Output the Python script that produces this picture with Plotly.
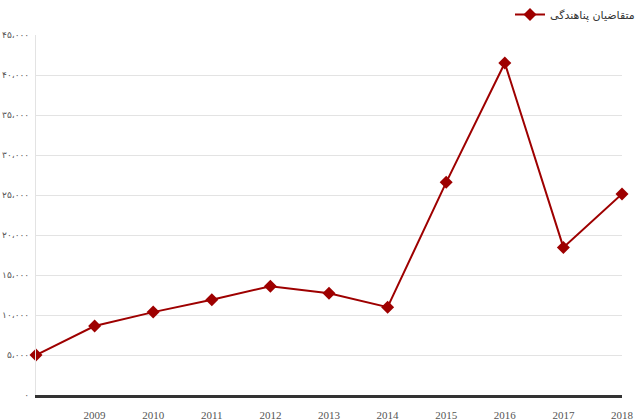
import plotly.graph_objects as go

years = [2008, 2009, 2010, 2011, 2012, 2013, 2014, 2015, 2016, 2017, 2018]
applicants = [5000, 8620, 10360, 11900, 13600, 12720, 10980, 26580, 41500, 18450, 25130]

x_ticks = [2009, 2010, 2011, 2012, 2013, 2014, 2015, 2016, 2017, 2018]
y_ticks = [0, 5000, 10000, 15000, 20000, 25000, 30000, 35000, 40000, 45000]
y_labels = ["۰", "۵،۰۰۰", "۱۰،۰۰۰", "۱۵،۰۰۰", "۲۰،۰۰۰", "۲۵،۰۰۰",
            "۳۰،۰۰۰", "۳۵،۰۰۰", "۴۰،۰۰۰", "۴۵،۰۰۰"]

fig = go.Figure()
fig.add_trace(go.Scatter(
    x=years, y=applicants, name="متقاضیان پناهندگی",
    mode="lines+markers",
    line=dict(color="#9e0000", width=2),
    marker=dict(symbol="diamond", size=10, color="#9e0000"),
    cliponaxis=False
))
fig.update_layout(
    width=640, height=420,
    plot_bgcolor="white", paper_bgcolor="white",
    margin=dict(l=36, r=18, t=35, b=25, autoexpand=False),
    showlegend=True,
    legend=dict(x=1.0, xref="container", xanchor="right",
                y=1.015, yref="container", yanchor="top",
                itemwidth=30, tracegroupgap=0,
                font=dict(family="DejaVu Sans", size=11, color="#333")),
    xaxis=dict(range=[2008, 2018], tickvals=x_ticks, showgrid=False,
               automargin=False,
               showline=True, linecolor="#333", linewidth=3, ticks="outside",
               ticklen=8, tickcolor="rgba(0,0,0,0)",
               tickfont=dict(family="Liberation Serif", size=11, color="#555")),
    yaxis=dict(range=[0, 45000], tickvals=y_ticks, ticktext=y_labels,
               automargin=False,
               showgrid=True, gridcolor="#e3e3e3", gridwidth=1,
               showline=True, linecolor="#e3e3e3", zeroline=False,
               ticks="outside", ticklen=4, tickcolor="rgba(0,0,0,0)",
               tickfont=dict(family="DejaVu Sans", size=9, color="#555"))
)
fig.write_html("out.html", config={"displayModeBar": False},
               post_script="document.body.style.margin='0';")
